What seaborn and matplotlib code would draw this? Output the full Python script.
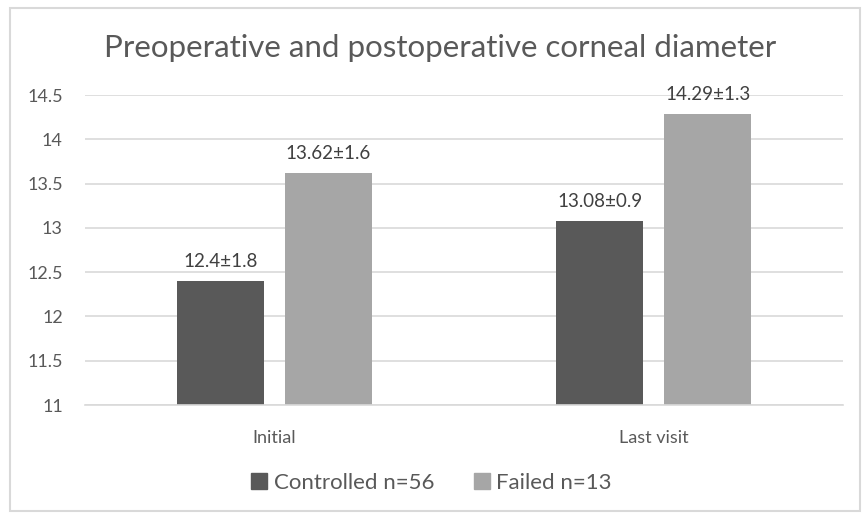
"""
Preoperative and postoperative corneal diameter, grouped bar chart
"""

import matplotlib.pyplot as plt
import matplotlib.patches as mpatches
import seaborn as sns
import pandas as pd

visits = ["Initial", "Last visit"]
groups = ["Controlled n=56", "Failed n=13"]
controlled = [12.4, 13.08]
failed = [13.62, 14.29]
controlled_sd = [1.8, 0.9]
failed_sd = [1.6, 1.3]
colors = ["#595959", "#a6a6a6"]


def main():
    df = pd.DataFrame({
        "Visit": visits * 2,
        "Group": [groups[0]] * 2 + [groups[1]] * 2,
        "Diameter": controlled + failed,
        "SD": controlled_sd + failed_sd,
    })

    sns.set_theme(style="white")
    plt.rcParams["font.family"] = ["Lato", "DejaVu Sans"]

    fig = plt.figure(figsize=(8.63, 5.17), dpi=100)
    ax = fig.add_axes([0.0985, 0.2166, 0.8785, 0.5994])

    sns.barplot(
        data=df, x="Visit", y="Diameter", hue="Group",
        palette=colors, width=0.57, gap=0.2, ax=ax,
        legend=True, saturation=1, linewidth=0,
    )

    # value labels
    for container, sds in zip(ax.containers, [controlled_sd, failed_sd]):
        labels = [f"{bar.get_height():g}±{sd:g}" for bar, sd in zip(container, sds)]
        ax.bar_label(container, labels=labels, padding=8, fontsize=13.5, color="#404040")

    ax.set_ylim(11, 14.5)
    ax.set_yticks([11, 11.5, 12, 12.5, 13, 13.5, 14, 14.5])
    ax.set_yticklabels(["11", "11.5", "12", "12.5", "13", "13.5", "14", "14.5"])
    ax.yaxis.grid(True, color="#d9d9d9", linewidth=1.2)
    ax.set_axisbelow(True)
    for side in ["top", "right", "left"]:
        ax.spines[side].set_visible(False)
    ax.spines["bottom"].set_color("#d9d9d9")
    ax.spines["bottom"].set_linewidth(1.2)
    ax.tick_params(axis="both", length=0, labelsize=13, colors="#595959")
    ax.tick_params(axis="x", pad=18)
    ax.tick_params(axis="y", pad=16)
    ax.set_xlabel("")
    ax.set_ylabel("")

    fig.suptitle("Preoperative and postoperative corneal diameter",
                 x=0.510, y=0.935, fontsize=22.5, color="#595959")

    handles = [mpatches.Patch(color=c, label=g) for c, g in zip(colors, groups)]
    ax.legend(handles=handles, loc="center", bbox_to_anchor=(0.5, 0.066),
              bbox_transform=fig.transFigure, ncol=2, frameon=False,
              fontsize=16, labelcolor="#595959", handlelength=0.7,
              handleheight=0.7, handletextpad=0.3, columnspacing=1.8)

    # outer chart border
    fig.patches.append(mpatches.Rectangle(
        (0.012, 0.012), 0.985, 0.972, transform=fig.transFigure,
        fill=False, edgecolor="#d9d9d9", linewidth=1.5))

    fig.savefig("out.png", dpi=100)
    plt.close(fig)


if __name__ == "__main__":
    main()
